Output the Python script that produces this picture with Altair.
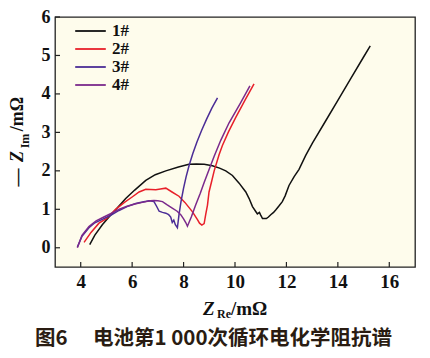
import altair as alt
import pandas as pd

# ---- data ----
series = ["1#", "2#", "3#", "4#"]
colors = ["#111111", "#E8202A", "#4B2D96", "#7B2A8C"]

x1 = [4.35, 4.55, 4.84, 5.1, 5.4, 5.75, 6.1, 6.53, 6.9, 7.31, 7.8, 8.21, 8.5, 8.8, 9.12, 9.4, 9.64,
      9.9, 10.16, 10.42, 10.55, 10.68, 10.8, 10.87, 10.95, 11.0, 11.07, 11.15, 11.22, 11.3, 11.39,
      11.5, 11.59, 11.7, 11.84, 11.95, 12.1, 12.3, 12.49, 12.75, 13.01, 13.5, 14.0, 14.5, 15.0, 15.26]
y1 = [0.08, 0.33, 0.6, 0.8, 1.02, 1.28, 1.5, 1.75, 1.9, 2.0, 2.1, 2.17, 2.18, 2.17, 2.13, 2.07, 2.0,
      1.88, 1.68, 1.45, 1.28, 1.07, 0.95, 0.88, 0.92, 0.85, 0.76, 0.76, 0.76, 0.8, 0.86,
      0.92, 0.99, 1.08, 1.2, 1.35, 1.62, 1.85, 2.04, 2.4, 2.72, 3.27, 3.83, 4.40, 4.96, 5.25]

x2 = [4.13, 4.4, 4.71, 5.0, 5.36, 5.7, 6.0, 6.27, 6.53, 6.92, 7.1, 7.31, 7.55, 7.82, 8.05, 8.34,
      8.54, 8.62, 8.71, 8.80, 8.86, 8.93, 8.99, 9.1, 9.19, 9.38, 9.51, 9.75, 10.03, 10.4, 10.74]
y2 = [0.14, 0.4, 0.64, 0.76, 1.0, 1.18, 1.32, 1.45, 1.52, 1.51, 1.53, 1.55, 1.45, 1.34, 1.18, 0.94,
      0.73, 0.64, 0.59, 0.63, 0.86, 1.11, 1.45, 1.75, 2.0, 2.42, 2.66, 3.02, 3.39, 3.85, 4.26]

x3 = [3.87, 4.05, 4.32, 4.55, 4.84, 5.15, 5.49, 5.8, 6.14, 6.4, 6.66, 6.85, 6.95, 7.05, 7.18, 7.31,
      7.42, 7.5, 7.56, 7.62, 7.68, 7.76, 7.82, 7.9, 8.0, 8.1, 8.22, 8.36, 8.52, 8.7, 8.9, 9.1, 9.32]
y3 = [0.02, 0.3, 0.52, 0.65, 0.74, 0.84, 0.97, 1.07, 1.15, 1.19, 1.22, 1.2, 1.08, 0.95, 0.92, 0.9,
      0.86, 0.8, 0.66, 0.72, 0.6, 0.52, 0.85, 1.2, 1.55, 1.85, 2.15, 2.45, 2.75, 3.05, 3.35, 3.63, 3.9]

x4 = [3.87, 4.05, 4.32, 4.6, 4.9, 5.2, 5.5, 5.8, 6.1, 6.4, 6.7, 6.85, 7.0, 7.18, 7.35, 7.56, 7.75,
      7.89, 8.0, 8.09, 8.15, 8.3, 8.47, 8.65, 8.8, 9.0, 9.19, 9.45, 9.77, 10.2, 10.58]
y4 = [0.0, 0.32, 0.55, 0.7, 0.8, 0.9, 1.0, 1.08, 1.14, 1.18, 1.22, 1.23, 1.22, 1.2, 1.12, 1.03, 0.95,
      0.86, 0.75, 0.65, 0.56, 0.8, 1.11, 1.42, 1.7, 2.05, 2.38, 2.8, 3.25, 3.75, 4.21]

x_ticks = [4, 6, 8, 10, 12, 14, 16]
y_ticks = [0, 1, 2, 3, 4, 5, 6]
x_domain = [3, 17]
y_domain = [-0.5, 6]

caption_no = "图6"
caption_text = "电池第1 000次循环电化学阻抗谱"

rows = []
for name, xs_, ys_ in zip(series, [x1, x2, x3, x4], [y1, y2, y3, y4]):
    for i, (a, b) in enumerate(zip(xs_, ys_)):
        rows.append({"s": name, "i": i, "x": a, "y": b})
df = pd.DataFrame(rows)

W, H = 360, 250
serif = "Liberation Serif, Times New Roman, Tinos, DejaVu Serif, serif"
cjk = "Noto Sans CJK SC"
ink = "#111111"

xsc = alt.Scale(domain=x_domain, nice=False, zero=False)
ysc = alt.Scale(domain=y_domain, nice=False, zero=False)
xaxis = alt.Axis(values=x_ticks, ticks=False, domain=False, grid=False, title=None,
                 labelFont=serif, labelFontSize=19, labelFontWeight="bold",
                 labelColor=ink, labelPadding=5)
yaxis = alt.Axis(values=y_ticks, ticks=False, domain=False, grid=False, title=None,
                 labelFont=serif, labelFontSize=18, labelFontWeight="bold",
                 labelColor=ink, labelPadding=5)

lines = alt.Chart(df).mark_line(strokeWidth=1.5).encode(
    x=alt.X("x:Q", scale=xsc, axis=xaxis),
    y=alt.Y("y:Q", scale=ysc, axis=yaxis),
    color=alt.Color("s:N", scale=alt.Scale(domain=series, range=colors),
                    legend=alt.Legend(title=None, orient="none", legendX=25.5, legendY=4,
                                      symbolType="M-1.7,0H1.7", symbolSize=324,
                                      symbolStrokeWidth=1.8, labelFont=serif,
                                      labelFontSize=17, labelFontWeight="bold",
                                      labelColor=ink, rowPadding=0, labelOffset=11.5,
                                      padding=0)),
    order="i:Q",
)

xt = alt.Chart(pd.DataFrame({"v": x_ticks})).mark_rule(color="#222222", strokeWidth=1.2).encode(
    x=alt.X("v:Q", scale=xsc, axis=xaxis), y=alt.value(H), y2=alt.value(H - 5))
yt = alt.Chart(pd.DataFrame({"v": y_ticks})).mark_rule(color="#222222", strokeWidth=1.2).encode(
    y=alt.Y("v:Q", scale=ysc, axis=yaxis), x=alt.value(0), x2=alt.value(5))


def txt(s, x, y, size, font=serif, style="normal", angle=0, align="center", color=ink):
    return alt.Chart(pd.DataFrame({"t": [s]})).mark_text(
        font=font, fontSize=size, fontWeight="bold", fontStyle=style, angle=angle,
        align=align, baseline="middle", color=color).encode(
        x=alt.value(x), y=alt.value(y), text="t:N")


texts = [
    # x title
    txt("Z", 148, 292, 19, style="italic", align="left"),
    txt("Re", 162, 297, 12, align="left"),
    txt("/mΩ", 176, 292, 19, align="left"),
    # y title (rotated)
    txt("—", -37, 160.5, 18, angle=270),
    txt("Z", -37, 139.5, 18, style="italic", angle=270),
    txt("Im", -30, 124, 12, angle=270),
    txt("/mΩ", -37, 97, 18, angle=270),
    # caption
    txt(caption_no, -20, 321.5, 20.5, font=cjk, align="left", color="#2a1c12"),
    txt(caption_text, 38, 321.5, 20.5, font=cjk, align="left", color="#2a1c12"),
]

chart = alt.layer(lines, xt, yt, *texts).properties(
    width=W, height=H,
    padding={"left": 47, "top": 9, "right": 7, "bottom": 83},
    autosize=alt.AutoSizeParams(type="none"),
    background="white",
).configure_view(fill="#FEFCEC", stroke="#222222", strokeWidth=1.3)

chart.save("out.html", embed_options={"renderer": "svg", "actions": False})
